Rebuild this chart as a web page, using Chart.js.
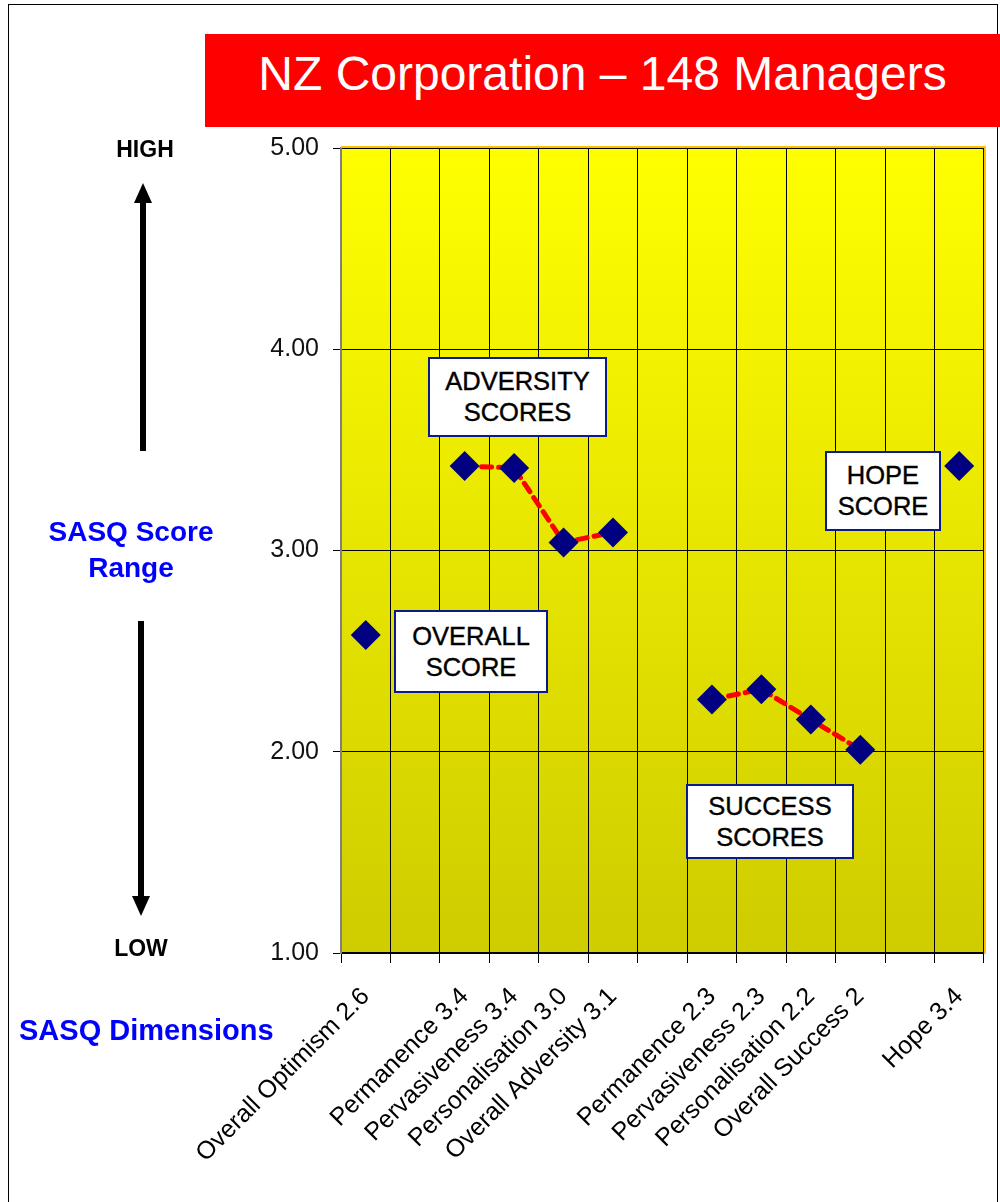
<!DOCTYPE html>
<html>
<head>
<meta charset="utf-8">
<script src="https://cdn.jsdelivr.net/npm/chart.js@4.4.1/dist/chart.umd.min.js"></script>
<style>
  html, body { margin: 0; padding: 0; background: #fff; }
  body { width: 1000px; height: 1202px; position: relative; overflow: hidden; font-family: "Liberation Sans", Arial, sans-serif; }
  #frame { position: absolute; left: 8px; top: 4px; width: 990px; height: 1220px; border: 1.5px solid #000; box-sizing: border-box; }
  #chart { position: absolute; left: 0; top: 0; }
  .title { position: absolute; left: 205px; top: 34px; width: 795px; height: 93px; background: #ff0000; color: #fff;
           font-size: 48px; line-height: 80px; text-align: center; }
  .side { position: absolute; font-weight: bold; text-align: center; }
  .note { position: absolute; background: #fff; border: 2px solid #0a1a8a; box-sizing: border-box; color: #000;
          font-size: 25.5px; line-height: 31px; text-align: center; display: flex; flex-direction: column; justify-content: center;
          -webkit-text-stroke: 0.4px #000; }
  svg { position: absolute; left: 0; top: 0; }
</style>
</head>
<body>
<div id="frame"></div>
<canvas id="chart" width="1000" height="1202"></canvas>
<div class="title">NZ Corporation – 148 Managers</div>

<div class="side" style="left:95px; top:136px; width:100px; font-size:23px;">HIGH</div>
<div class="side" style="left:91px; top:935px; width:100px; font-size:23px;">LOW</div>
<div class="side" style="left:20px; top:514px; width:222px; font-size:28px; line-height:36px; color:#0000ff;">SASQ Score<br>Range</div>
<div class="side" style="left:19px; top:1014px; width:280px; font-size:29px; text-align:left; color:#0000ff;">SASQ Dimensions</div>

<svg width="200" height="1000">
  <rect x="140" y="200" width="6" height="251" fill="#000"/>
  <polygon points="143,183 134,203 152,203" fill="#000"/>
  <rect x="138" y="621" width="6" height="278" fill="#000"/>
  <polygon points="141,916 132,896 150,896" fill="#000"/>
</svg>

<div class="note" style="left:428px; top:357px; width:179px; height:80px;">ADVERSITY<br>SCORES</div>
<div class="note" style="left:394px; top:610px; width:154px; height:83px;">OVERALL<br>SCORE</div>
<div class="note" style="left:825px; top:451px; width:116px; height:80px;">HOPE<br>SCORE</div>
<div class="note" style="left:686px; top:784px; width:168px; height:75px;">SUCCESS<br>SCORES</div>

<script>
// SASQ dimensions (blank slots are the gaps between groups)
const categories = [
    'Overall Optimism 2.6', '',
    'Permanence 3.4', 'Pervasiveness 3.4', 'Personalisation 3.0', 'Overall Adversity 3.1', '',
    'Permanence 2.3', 'Pervasiveness 2.3', 'Personalisation 2.2', 'Overall Success 2', '',
    'Hope 3.4'
];

// scores
const overallScore    = [2.58, null, null, null, null, null, null, null, null, null, null, null, null];
const adversityScores = [null, null, 3.42, 3.41, 3.04, 3.09, null, null, null, null, null, null, null];
const successScores   = [null, null, null, null, null, null, null, 2.26, 2.31, 2.16, 2.01, null, null];
const hopeScore       = [null, null, null, null, null, null, null, null, null, null, null, null, 3.42];

const yTicks = [1, 2, 3, 4, 5];

const markerColor = '#000080';
const FONT = '"Liberation Sans", Arial, sans-serif';

// yellow gradient behind the plot + plot border
const plotBackground = {
    id: 'plotBackground',
    beforeDraw(chart) {
        const { ctx, chartArea: a } = chart;
        const g = ctx.createLinearGradient(0, a.top, 0, a.bottom);
        g.addColorStop(0, '#ffff00');
        g.addColorStop(1, '#cfcc00');
        ctx.save();
        ctx.fillStyle = g;
        ctx.fillRect(a.left, a.top, a.right - a.left, a.bottom - a.top);
        ctx.restore();
    },
    afterDraw(chart) {
        const { ctx, chartArea: a } = chart;
        ctx.save();
        ctx.strokeStyle = '#ffc000';
        ctx.lineWidth = 2;
        ctx.beginPath();
        ctx.moveTo(a.left, a.top - 1);
        ctx.lineTo(a.right + 1, a.top - 1);
        ctx.lineTo(a.right + 1, a.bottom + 1);
        ctx.stroke();
        ctx.restore();
    }
};

function scoreSet(data, withLine) {
    return {
        data: data,
        showLine: withLine,
        spanGaps: false,
        borderColor: '#ff0000',
        borderWidth: 5,
        borderDash: [10, 7],
        borderCapStyle: 'round',
        pointStyle: 'rectRot',
        pointRadius: 15,
        pointHoverRadius: 15,
        pointBackgroundColor: markerColor,
        pointBorderColor: markerColor,
        pointBorderWidth: 0,
        tension: 0
    };
}

new Chart(document.getElementById('chart').getContext('2d'), {
    type: 'line',
    data: {
        labels: categories,
        datasets: [
            scoreSet(adversityScores, true),
            scoreSet(successScores, true),
            scoreSet(overallScore, false),
            scoreSet(hopeScore, false)
        ]
    },
    options: {
        responsive: false,
        animation: false,
        devicePixelRatio: 1,
        layout: { padding: { left: 0, top: 148, right: 10, bottom: 0 } },
        plugins: { legend: { display: false }, tooltip: { enabled: false } },
        scales: {
            x: {
                offset: true,
                grid: { offset: true, color: '#000', lineWidth: 1, tickLength: 10, drawTicks: true },
                border: { color: '#000', width: 1.5 },
                ticks: {
                    autoSkip: false,
                    maxRotation: 45,
                    minRotation: 45,
                    padding: 19,
                    color: '#000',
                    font: { family: FONT, size: 25 }
                },
                afterFit: scale => { scale.height = 249; }
            },
            y: {
                min: 1,
                max: 5,
                afterBuildTicks: scale => { scale.ticks = yTicks.map(v => ({ value: v })); },
                grid: { color: '#000', lineWidth: 1, tickLength: 8 },
                border: { color: '#808080', width: 2 },
                ticks: {
                    padding: 14,
                    color: '#111',
                    font: { family: FONT, size: 25 },
                    callback: v => v.toFixed(2)
                },
                afterFit: scale => { scale.width = 341; }
            }
        }
    },
    plugins: [plotBackground]
});
</script>
</body>
</html>
